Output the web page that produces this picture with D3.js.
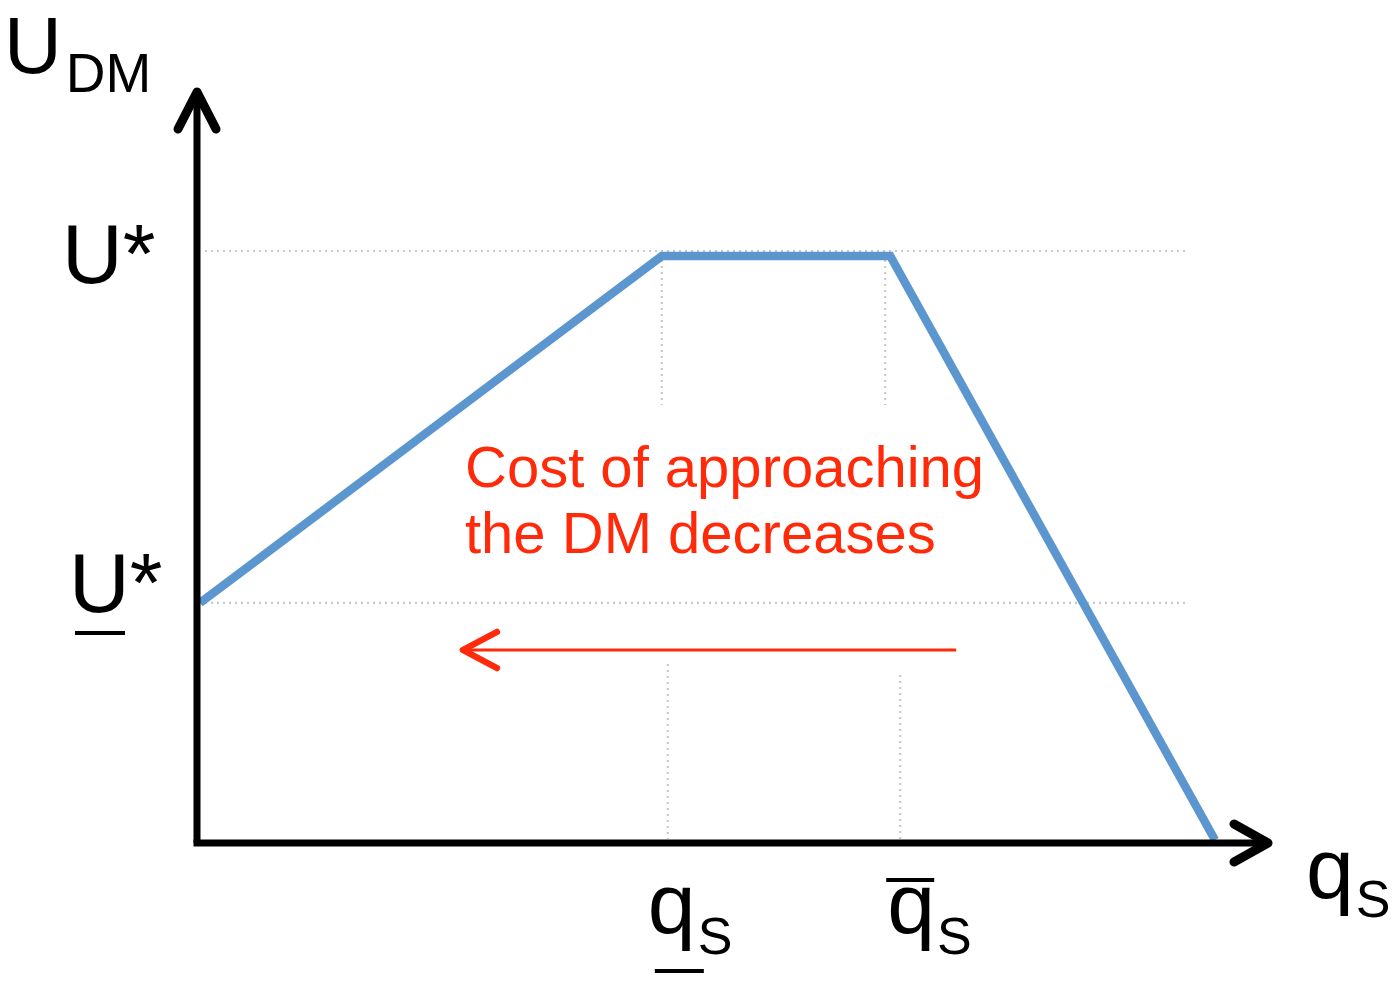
<!DOCTYPE html>
<html><head><meta charset="utf-8">
<script src="https://cdn.jsdelivr.net/npm/d3@7"></script>
<style>body{margin:0;background:#fff}svg{display:block}</style>
</head><body>
<svg id="chart" width="1400" height="983"></svg>
<script>
// ---- data ----
const qValues = [0, 45.5, 68, 100];          // supply quantity q_S (abstract units)
const uValues = [40.6, 100, 100, 0];         // U_DM
const yTickValues = [100, 40.6];             // U*, lower U*
const yTickLabels = ["U*", "U*"];
const yTickUnderline = [false, true];
const xTickValues = [45.5, 68];              // lower q_S, upper q_S
const xTickLabels = ["q", "q"];
const xTickSubs = ["S", "S"];
const xTickMarks = ["under", "over"];
const annotationLines = ["Cost of approaching", "the DM decreases"];
const arrowFromTo = [74.5, 25.9];            // in q units

// ---- layout ----
const svg = d3.select("#chart");
const FONT = "'Liberation Sans', Arial, Helvetica, sans-serif";
const x = d3.scaleLinear().domain([0, 100]).range([200, 1215]);
const y = d3.scaleLinear().domain([0, 100]).range([840, 256]);
const axisX0 = 197, axisY0 = 843;

// grid (dotted)
const grid = svg.append("g").attr("stroke", "#c9c9c9").attr("stroke-width", 2.2)
  .attr("stroke-dasharray", "2,4").attr("fill", "none");
grid.selectAll("line.h").data(yTickValues).join("line")
  .attr("x1", 205).attr("x2", 1185)
  .attr("y1", d => y(d) - (d === 100 ? 5 : 0)).attr("y2", d => y(d) - (d === 100 ? 5 : 0));
// vertical upper segments
grid.selectAll("line.vu").data(xTickValues).join("line")
  .attr("x1", (d, i) => x(d) + (i ? -5 : 0)).attr("x2", (d, i) => x(d) + (i ? -5 : 0))
  .attr("y1", y(100) + 4).attr("y2", 405);
// vertical lower segments
grid.selectAll("line.vl").data(xTickValues).join("line")
  .attr("x1", (d, i) => x(d) + (i ? 10 : 6)).attr("x2", (d, i) => x(d) + (i ? 10 : 6))
  .attr("y1", (d, i) => i ? 675 : 664).attr("y2", axisY0 - 4);

// curve
const pts = qValues.map((q, i) => [x(q), y(uValues[i])]);
svg.append("path").attr("d", d3.line()(pts))
  .attr("fill", "none").attr("stroke", "#5b96cf").attr("stroke-width", 8.5)
  .attr("stroke-linejoin", "miter");

// axes
const ax = svg.append("g").attr("stroke", "#000").attr("fill", "none")
  .attr("stroke-linecap", "round").attr("stroke-linejoin", "round");
ax.append("line").attr("x1", axisX0).attr("y1", axisY0).attr("x2", axisX0).attr("y2", 92).attr("stroke-width", 7).attr("stroke-linecap", "butt");
ax.append("line").attr("x1", axisX0 - 3.5).attr("y1", axisY0).attr("x2", 1268).attr("y2", axisY0).attr("stroke-width", 7).attr("stroke-linecap", "butt");
ax.append("path").attr("d", `M${axisX0 - 19},${129} L${axisX0},${92} L${axisX0 + 19},${129}`).attr("stroke-width", 9);
ax.append("path").attr("d", `M1234,${axisY0 - 19} L1268,${axisY0} L1234,${axisY0 + 19}`).attr("stroke-width", 9);

// axis titles
const t1 = svg.append("text").attr("x", 4).attr("y", 73).attr("font-family", FONT).attr("fill", "#000");
t1.append("tspan").attr("font-size", 80).text("U");
t1.append("tspan").attr("font-size", 55).attr("dx", 4).attr("dy", 19).text("DM");

const t2 = svg.append("text").attr("x", 1306).attr("y", 898).attr("font-family", FONT).attr("fill", "#000");
t2.append("tspan").attr("font-size", 86).text("q");
t2.append("tspan").attr("font-size", 52).attr("dx", 2).attr("dy", 19).text("S");

// y tick labels
const yt = svg.append("g").attr("font-family", FONT).attr("fill", "#000");
yTickValues.forEach((v, i) => {
  const by = i === 0 ? 283 : 612;
  const x0 = i === 0 ? 62 : 69;
  yt.append("text").attr("x", x0).attr("y", by).attr("font-size", 84).text(yTickLabels[i]);
  if (yTickUnderline[i]) {
    yt.append("line").attr("x1", 75).attr("x2", 125).attr("y1", 633).attr("y2", 633)
      .attr("stroke", "#000").attr("stroke-width", 4);
  }
});

// x tick labels
const xt = svg.append("g").attr("font-family", FONT).attr("fill", "#000");
xTickValues.forEach((v, i) => {
  const cx = x(v) + (i === 0 ? -14 : -3);
  const tx = xt.append("text").attr("x", cx).attr("y", 933);
  tx.append("tspan").attr("font-size", 86).text(xTickLabels[i]);
  tx.append("tspan").attr("font-size", 52).attr("dx", 2).attr("dy", 21).text(xTickSubs[i]);
  if (xTickMarks[i] === "under") {
    xt.append("line").attr("x1", cx + 7).attr("x2", cx + 56).attr("y1", 971).attr("y2", 971)
      .attr("stroke", "#000").attr("stroke-width", 4);
  } else {
    xt.append("line").attr("x1", cx - 1).attr("x2", cx + 47).attr("y1", 880).attr("y2", 880)
      .attr("stroke", "#000").attr("stroke-width", 4);
  }
});

// annotation
const red = "#ff2a0a";
svg.append("g").selectAll("text").data(annotationLines).join("text")
  .attr("x", 465).attr("y", (d, i) => 487 + i * 66)
  .attr("font-family", FONT).attr("font-size", 58).attr("fill", red).text(d => d);
const ay = 650;
svg.append("line").attr("x1", x(arrowFromTo[0])).attr("x2", x(arrowFromTo[1]) + 2)
  .attr("y1", ay).attr("y2", ay).attr("stroke", red).attr("stroke-width", 3);
svg.append("path")
  .attr("d", `M${x(arrowFromTo[1]) + 34},${ay - 18} L${x(arrowFromTo[1])},${ay} L${x(arrowFromTo[1]) + 34},${ay + 18}`)
  .attr("fill", "none").attr("stroke", red).attr("stroke-width", 6.5)
  .attr("stroke-linecap", "round").attr("stroke-linejoin", "round");
</script>
</body></html>
